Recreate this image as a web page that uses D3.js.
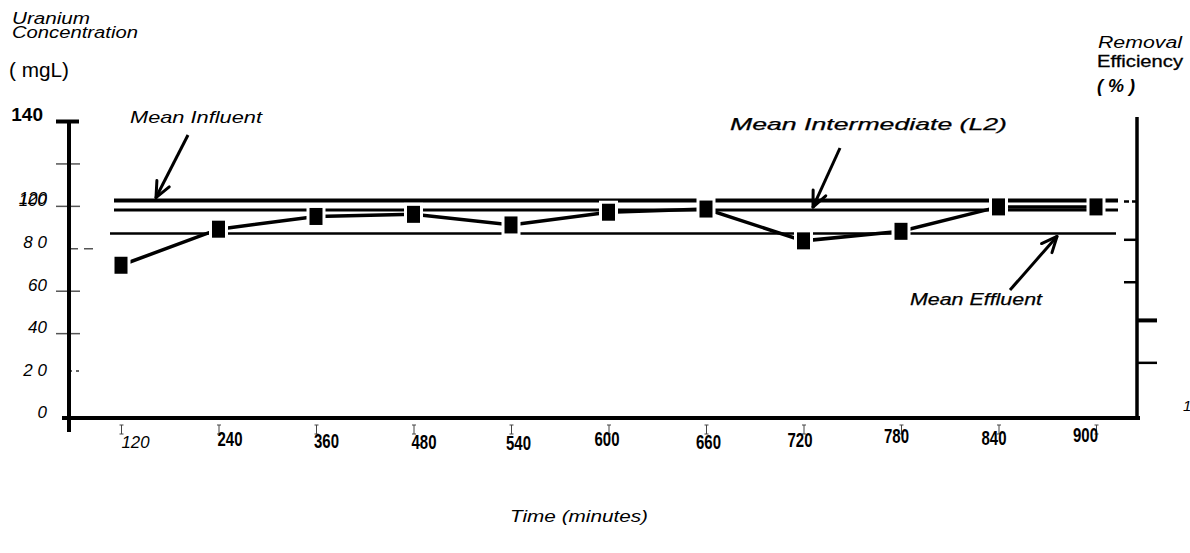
<!DOCTYPE html>
<html>
<head>
<meta charset="utf-8">
<script src="https://cdn.jsdelivr.net/npm/d3@7"></script>
<style>
    body { margin: 0; background: #fff; }
    text { font-family: "Liberation Sans", Arial, sans-serif; fill: #000; }
</style>
</head>
<body>
<svg id="uranium_plot" width="1190" height="553"></svg>
<script>
// the following values
const times            = ["120", "240", "360", "480", "540", "600", "660", "720", "780", "840", "900"];
const concentrations   = [72, 89, 95, 96, 91, 97, 98.5, 83.5, 88, 99.5, 99.5];
const meanInfluent     = 102.5;
const meanIntermediate = 98;
const meanEffluent     = 87;

const yTickValues  = [140, 120, 100, 80, 60, 40, 20];
const yLabelTexts  = ["140", "120", "100", "8 0", "60", "40", "2 0", "0"];
const yLabelValues = [140, 100, 100, 80, 60, 40, 20, 0];
const rightTicks   = [102, 84, 64, 46, 26];

var svg = d3.select("#uranium_plot");

const yScale = d3.scaleLinear()
    .domain([0, 140])
    .range([418, 121]);

const xScale = d3.scalePoint()
    .domain(times)
    .range([121, 1096]);

const leftX  = 69;
const rightX = 1137;

// here we are drawing the left axis with its uneven tick marks
const axisLeft = d3.axisLeft(yScale)
    .tickValues(yTickValues)
    .tickSize(0)
    .tickFormat("");

const gLeft = svg.append("g")
    .attr("transform", `translate(${leftX},0)`)
    .call(axisLeft);
gLeft.select(".domain").remove();

gLeft.selectAll(".tick").each(function(d)
{
    let tick = d3.select(this);
    if (d === 140)
    {
        tick.append("line").attr("x1", -13).attr("x2", 10).attr("stroke", "#000").attr("stroke-width", 4);
    }
    else if (d === 80)
    {
        tick.append("line").attr("x1", 0).attr("x2", 25).attr("stroke", "#555")
            .attr("stroke-width", 1.5).attr("stroke-dasharray", "9,6");
    }
    else if (d === 20)
    {
        tick.append("line").attr("x1", 0).attr("x2", 13).attr("y1", -5).attr("y2", -5).attr("stroke", "#333")
            .attr("stroke-width", 1.5).attr("stroke-dasharray", "3,4");
    }
    else
    {
        tick.append("line").attr("x1", -13).attr("x2", 11).attr("stroke", "#555").attr("stroke-width", 1.5);
    }
});

svg.append("line")
    .attr("x1", leftX).attr("x2", leftX)
    .attr("y1", yScale(140)).attr("y2", 432)
    .attr("stroke", "#000").attr("stroke-width", 4);

svg.selectAll(".ylabel").data(yLabelTexts)
    .enter().append("text")
    .attr("class", "ylabel")
    .attr("x", (d, i) => i === 0 ? 43 : 47)
    .attr("y", (d, i) => yScale(yLabelValues[i]) - (i === 1 ? 1.5 : 0))
    .attr("text-anchor", "end")
    .attr("font-size", (d, i) => i === 0 ? 19 : 17)
    .attr("font-weight", (d, i) => i === 0 ? "bold" : "normal")
    .attr("font-style", (d, i) => i === 0 ? "normal" : "italic")
    .text(d => d);

// bottom axis
svg.append("line")
    .attr("x1", 62).attr("x2", rightX + 3)
    .attr("y1", yScale(0)).attr("y2", yScale(0))
    .attr("stroke", "#000").attr("stroke-width", 4);

const axisBottom = d3.axisBottom(xScale).tickSize(0).tickFormat("");
const gBottom = svg.append("g")
    .attr("transform", `translate(0,${yScale(0)})`)
    .call(axisBottom);
gBottom.select(".domain").remove();

// small serif-like tick marks under the axis
gBottom.selectAll(".tick").append("path")
    .attr("d", "M0,7V16M-2,7H2M-2,16H2")
    .attr("fill", "none")
    .attr("stroke", "#444")
    .attr("stroke-width", 1);

const labelShift = [14, 11, 10, 10, 7, -2, 2, -4, -5, -5, -11];
const labelDrop  = [30, 28, 30, 31, 32, 28, 31, 29, 25, 27, 24];

// condensed bold digits, squeezed with textLength
gBottom.selectAll(".tick").append("text")
    .attr("y", (d, i) => labelDrop[i])
    .attr("x", (d, i) => labelShift[i])
    .attr("text-anchor", "middle")
    .attr("font-size", d => d === "120" ? 17 : 21)
    .attr("font-style", d => d === "120" ? "italic" : "normal")
    .attr("font-weight", d => d === "120" ? "normal" : "bold")
    .attr("textLength", d => d === "120" ? 28 : 25)
    .attr("lengthAdjust", "spacingAndGlyphs")
    .text(d => d);

// right axis
svg.append("line")
    .attr("x1", rightX).attr("x2", rightX)
    .attr("y1", 117).attr("y2", yScale(0) + 2)
    .attr("stroke", "#000").attr("stroke-width", 3.5);

svg.selectAll(".rtick").data(rightTicks)
    .enter().append("line")
    .attr("class", "rtick")
    .attr("x1", d => d > 60 ? rightX - 13 : rightX)
    .attr("x2", d => d > 60 ? rightX : rightX + 20)
    .attr("y1", d => yScale(d)).attr("y2", d => yScale(d))
    .attr("stroke", "#000")
    .attr("stroke-width", d => d === 46 ? 4 : 2.5)
    .attr("stroke-dasharray", d => d === 102 ? "5,3" : null);

// mean lines
const means = [
    {v: meanInfluent,     x1: 114, x2: 1118, w: 4},
    {v: meanIntermediate, x1: 114, x2: 1118, w: 3},
    {v: meanEffluent,     x1: 110, x2: 1116, w: 2.5}
];

svg.selectAll(".mean").data(means)
    .enter().append("line")
    .attr("class", "mean")
    .attr("x1", d => d.x1).attr("x2", d => d.x2)
    .attr("y1", d => yScale(d.v)).attr("y2", d => yScale(d.v))
    .attr("stroke", "#000")
    .attr("stroke-width", d => d.w);

// concentration line and squares
const lineGen = d3.line()
    .x((d, i) => xScale(times[i]))
    .y(d => yScale(d));

svg.append("path")
    .datum(concentrations)
    .attr("d", lineGen)
    .attr("fill", "none")
    .attr("stroke", "#000")
    .attr("stroke-width", 3.5);

svg.selectAll(".pt").data(concentrations)
    .enter().append("rect")
    .attr("class", "pt")
    .attr("x", (d, i) => xScale(times[i]) - 8)
    .attr("y", d => yScale(d) - 10)
    .attr("width", 16)
    .attr("height", 20)
    .attr("fill", "#000")
    .attr("stroke", "#fff")
    .attr("stroke-width", 3);

// annotations with arrows
function arrow(x1, y1, x2, y2)
{
    let ang = Math.atan2(y2 - y1, x2 - x1);
    let len = 17;
    let spread = 0.42;
    svg.append("line").attr("x1", x1).attr("y1", y1).attr("x2", x2).attr("y2", y2)
        .attr("stroke", "#000").attr("stroke-width", 3);
    [-spread, spread].forEach(s =>
    {
        svg.append("line")
            .attr("x1", x2).attr("y1", y2)
            .attr("x2", x2 - len * Math.cos(ang + s))
            .attr("y2", y2 - len * Math.sin(ang + s))
            .attr("stroke", "#000").attr("stroke-width", 3).attr("stroke-linecap", "round");
    });
}

arrow(188, 135, 156, yScale(meanInfluent) - 3);
arrow(840, 148, 813, yScale(meanIntermediate) - 3);
arrow(1010, 290, 1057, yScale(meanEffluent) + 3);

function label(x, y, size, txt, width, heavy)
{
    let t = svg.append("text").attr("x", x).attr("y", y)
        .attr("font-size", size).attr("font-style", "italic")
        .attr("textLength", width).attr("lengthAdjust", "spacingAndGlyphs")
        .text(txt);
    if (heavy)
    {
        t.attr("stroke", "#000").attr("stroke-width", 0.25);
    }
    return t;
}

label(130, 123, 17, "Mean  Influent", 132, false);
label(730, 130, 17, "Mean Intermediate (L2)", 277, true);
label(910, 305, 17, "Mean Effluent", 132, true);

// axis titles
label(12, 24, 16, "Uranium", 78, false);
label(12, 38, 16, "Concentration", 126, false);
svg.append("text").attr("x", 9).attr("y", 77).attr("font-size", 21)
    .attr("textLength", 60).attr("lengthAdjust", "spacingAndGlyphs").text("( mgL)");

label(1098, 48, 16, "Removal", 84, false);
svg.append("text").attr("x", 1097).attr("y", 67).attr("font-size", 17)
    .attr("stroke", "#000").attr("stroke-width", 0.3)
    .attr("textLength", 86).attr("lengthAdjust", "spacingAndGlyphs").text("Efficiency");
svg.append("text").attr("x", 1097).attr("y", 92).attr("font-size", 18).attr("font-style", "italic")
    .attr("font-weight", "bold").text("( % )");

svg.append("text").attr("x", 1183).attr("y", 411).attr("font-size", 15).attr("font-style", "italic").text("1");

svg.append("text").attr("x", 510).attr("y", 522)
    .attr("font-size", 16).attr("font-style", "italic")
    .attr("textLength", 138).attr("lengthAdjust", "spacingAndGlyphs").text("Time  (minutes)");
</script>
</body>
</html>
